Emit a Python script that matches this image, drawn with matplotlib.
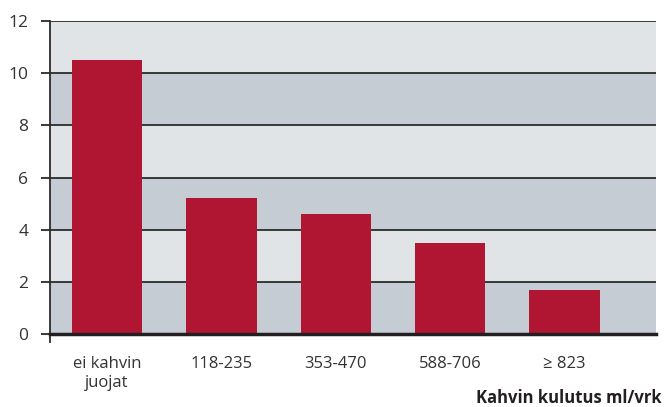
import matplotlib
matplotlib.use("Agg")
import matplotlib.pyplot as plt

categories = ["ei kahvin\njuojat", "118-235", "353-470", "588-706", "≥ 823"]
values = [10.5, 5.2, 4.6, 3.5, 1.7]
yticks = [0, 2, 4, 6, 8, 10, 12]
xlabel = "Kahvin kulutus ml/vrk"

plt.rcParams['font.family'] = ['Open Sans', 'DejaVu Sans']

fig = plt.figure(figsize=(6.64, 4.07), dpi=100)
ax = fig.add_axes([50/664, 1 - 334/407, 606/664, 313/407])

dark = "#c6ccd3"
light = "#e1e4e7"
for i in range(len(yticks) - 1):
    ax.axhspan(yticks[i], yticks[i+1], color=dark if i % 2 == 0 else light, zorder=0, lw=0)
for y in yticks[1:]:
    ax.axhline(y, color="#2b2b2b", lw=1.3, zorder=1)

x = list(range(len(categories)))
ax.bar(x, values, width=0.615, color="#b01632", zorder=2)

ax.set_xlim(-0.5, 4.8)
ax.set_ylim(0, 12)
ax.set_yticks(yticks)
ax.set_xticks(x)
ax.set_xticklabels(categories, fontsize=12, color="#333333", linespacing=1.25)
ax.tick_params(axis='y', length=6.5, width=1.3, color="#2b2b2b", pad=9, labelsize=12.5, labelcolor="#333333")
ax.tick_params(axis='x', length=0, pad=16)

for s in ["top", "right"]:
    ax.spines[s].set_visible(False)
ax.spines["left"].set_color("#2b2b2b")
ax.spines["left"].set_linewidth(1.3)
ax.spines["bottom"].set_color("#231f20")
ax.spines["bottom"].set_linewidth(2.5)
ax.spines["bottom"].set_zorder(3)
ax.plot([0, 0], [0, -0.025], transform=ax.transAxes, color="#2b2b2b", lw=1.3, clip_on=False)

fig.text(0.996, 0.0, xlabel, ha="right", va="bottom", fontsize=12, fontweight="bold", color="#231f20")

fig.savefig("out.png", dpi=100)
